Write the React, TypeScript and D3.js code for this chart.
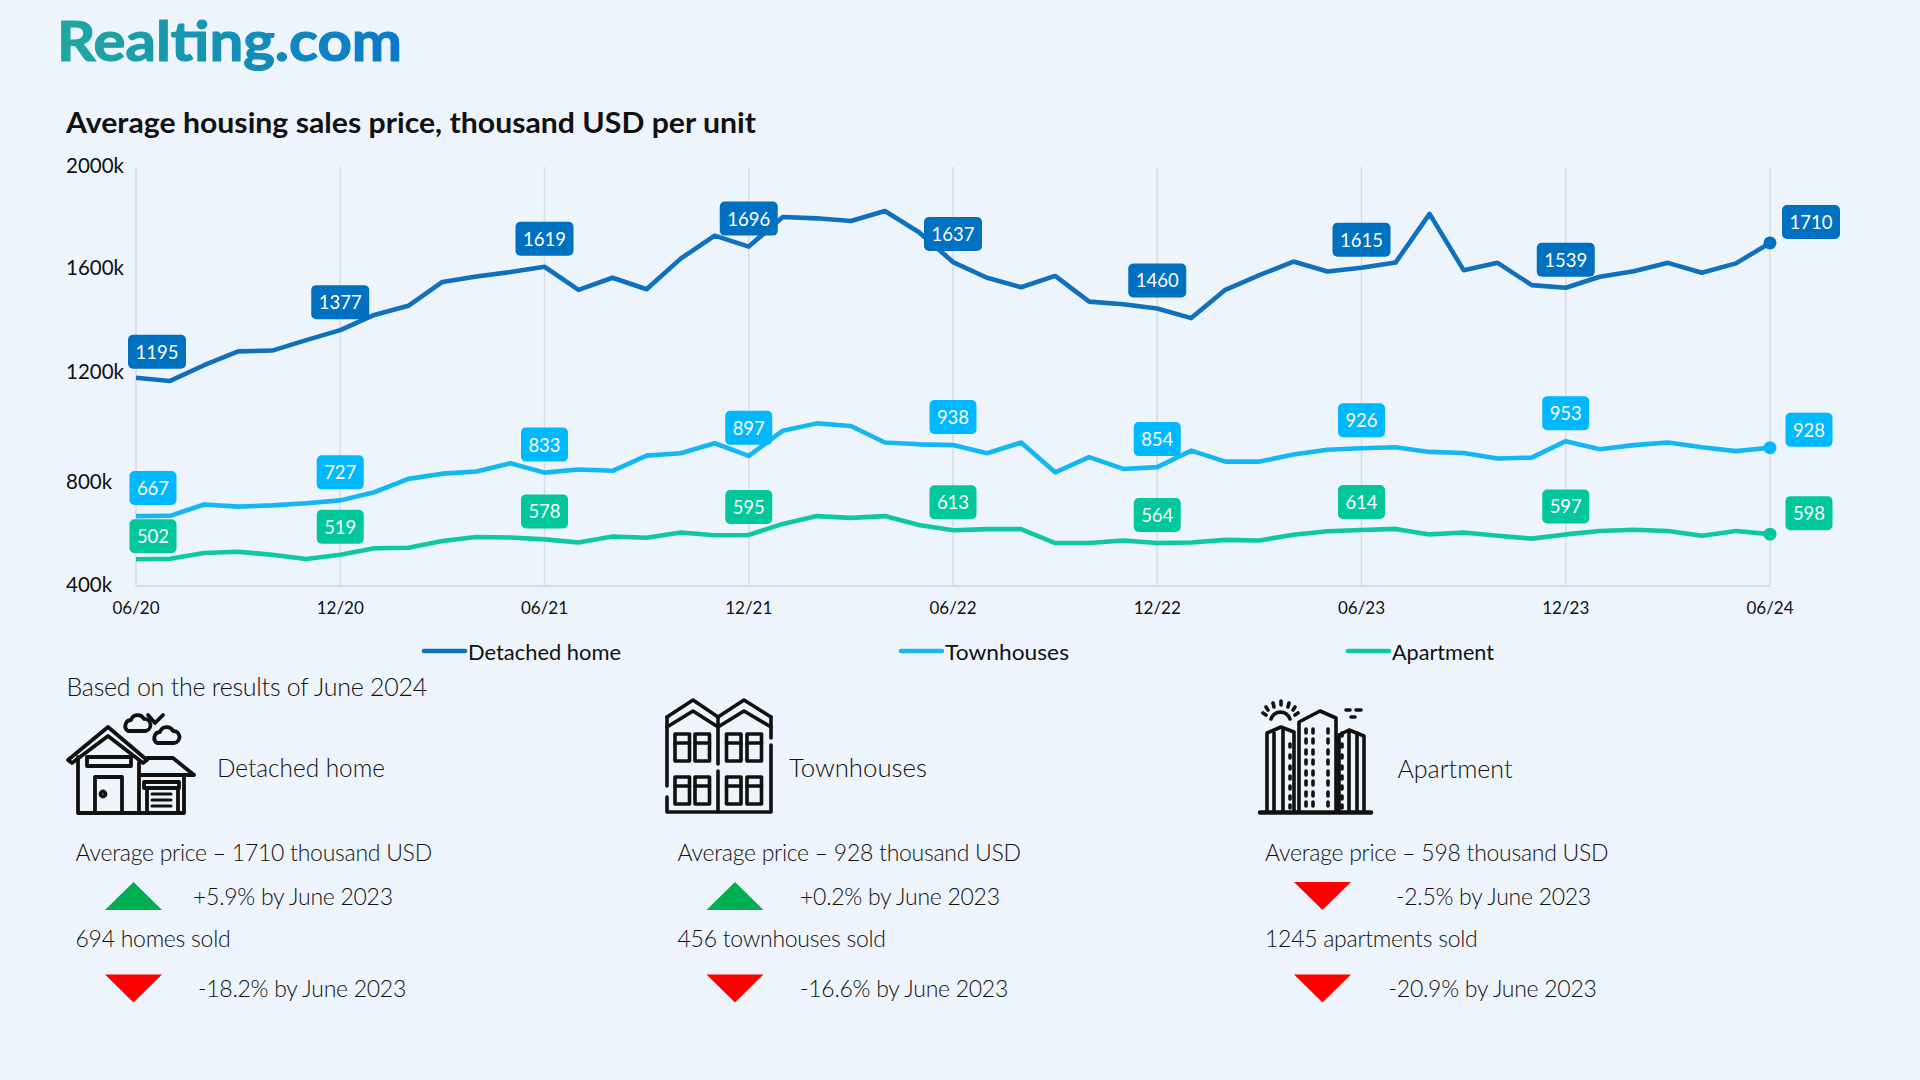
import * as d3 from "d3"

const detached = [
  1195, 1183, 1243, 1296, 1299, 1339, 1377, 1435, 1470, 1561, 1582, 1599, 1619, 1531, 1577, 1533, 1650, 1738, 1696,
  1809, 1804, 1794, 1832, 1751, 1637, 1577, 1541, 1584, 1486, 1476, 1460, 1423, 1531, 1587, 1639, 1601, 1615, 1635,
  1821, 1606, 1634, 1549, 1539, 1581, 1602, 1634, 1596, 1632, 1710,
]
const townhouses = [
  667, 668, 711, 703, 708, 716, 727, 758, 809, 829, 837, 869, 833, 845, 840, 898, 907, 945, 897, 993, 1021, 1011, 948,
  941, 938, 907, 948, 834, 892, 847, 854, 917, 875, 875, 902, 920, 926, 930, 912, 908, 887, 890, 953, 922, 938, 948,
  930, 915, 928,
]
const apartment = [
  502, 504, 526, 531, 519, 503, 519, 544, 546, 572, 587, 585, 578, 566, 589, 584, 604, 594, 595, 637, 667, 660, 667,
  633, 613, 617, 617, 564, 564, 574, 564, 566, 576, 574, 596, 609, 614, 618, 597, 604, 592, 581, 597, 610, 615, 610,
  592, 610, 598,
]
const xTickLabels = ["06/20", "12/20", "06/21", "12/21", "06/22", "12/22", "06/23", "12/23", "06/24"]
const yTicks = [2000, 1600, 1200, 800, 400]

const seriesNames = ["Detached home", "Townhouses", "Apartment"]
const lineColors = ["#0F70BE", "#14B7F2", "#0DC8A2"]
const boxColors = ["#0070C0", "#00B8FF", "#00C79C"]

const avgPrices = ["Average price – 1710 thousand USD", "Average price – 928 thousand USD", "Average price – 598 thousand USD"]
const priceChanges = ["+5.9% by June 2023", "+0.2% by June 2023", "-2.5% by June 2023"]
const soldCounts = ["694 homes sold", "456 townhouses sold", "1245 apartments sold"]
const soldChanges = ["-18.2% by June 2023", "-16.6% by June 2023", "-20.9% by June 2023"]

const FONT = "Lato, 'Noto Sans', sans-serif"
const INK = "#111"

const margin = { top: 167, right: 150, bottom: 494, left: 136 }
const width = 1920
const height = 1080

const xScale = d3
  .scaleLinear()
  .domain([0, detached.length - 1])
  .range([margin.left, width - margin.right])

const yScale = d3
  .scaleLinear()
  .domain([400, 2000])
  .range([height - margin.bottom, margin.top])

const lineGen = d3
  .line<number>()
  .x((_, i) => xScale(i))
  .y((d) => yScale(d))

// the tick labels in the picture do not sit exactly on the gridline values
const yLabelNudge: Record<number, number> = { 2000: -2, 1600: -5, 1200: -6, 800: 0, 400: -2 }

function labelOffset(seriesIndex: number, tickIndex: number) {
  if (tickIndex === 0) return { dx: seriesIndex === 0 ? 21 : 17, dy: seriesIndex === 2 ? -23 : seriesIndex === 0 ? -26 : -28 }
  if (tickIndex === xTickLabels.length - 1) {
    return { dx: seriesIndex === 0 ? 41 : 39, dy: seriesIndex === 0 ? -21 : seriesIndex === 1 ? -18 : -21 }
  }
  return { dx: 0, dy: -28 }
}

function Triangle({ x, y, up }: { x: number; y: number; up: boolean }) {
  const w = 57
  const h = 28
  const pts = up ? [[x, y + h], [x + w, y + h], [x + w / 2, y]] : [[x, y], [x + w, y], [x + w / 2, y + h]]
  return <polygon points={pts.map((p) => p.join(",")).join(" ")} fill={up ? "#00B050" : "#FF0000"} />
}

function HouseIcon() {
  return (
    <g fill="none" stroke="#111" strokeWidth={3.8} strokeLinejoin="round" strokeLinecap="round">
      <path d="M68 760 L108 727 L147 760 L143 763 L108 736 L72 763 Z" />
      <path d="M78 757 V813 H184 V775" />
      <path d="M139 763 V813" />
      <rect x={87} y={757} width={44} height={9} />
      <rect x={95} y={777} width={27} height={36} />
      <circle cx={103} cy={794} r={2.5} />
      <path d="M147 758 H173 L194 775 H139" />
      <rect x={144} y={782} width={35} height={6} />
      <path d="M147 788 V813 M178 788 V813" />
      <path d="M152 794 H171 M152 800 H171 M152 806 H171" strokeWidth={3} />
      <path d="M128 731 a6 6 0 0 1 3 -11 a7 7 0 0 1 13 -1 a6 6 0 0 1 1 12 Z" />
      <path d="M157 743 a6 6 0 0 1 3 -11 a7 7 0 0 1 13 -1 a6 6 0 0 1 1 12 Z" />
      <path d="M148 715 L155 723 L163 715" />
    </g>
  )
}

function TownhouseIcon() {
  const windowX = [675, 695, 726.5, 747]
  const windowY = [734, 777]
  return (
    <g fill="none" stroke="#111" strokeWidth={3.6} strokeLinejoin="round" strokeLinecap="round">
      <path d="M667 717 L693 700 L718 717 L744 700 L771 717" />
      <path d="M667 727 L693 711 L718 727 L744 711 L771 727" />
      <path d="M667 717 V786 M667 797 V812 H771 V745 M771 717 V738" />
      <path d="M718 717 V764 M718 771 V812" />
      {windowY.map((wy) =>
        windowX.map((wx) => (
          <g key={`${wx}-${wy}`}>
            <rect x={wx} y={wy} width={14.5} height={27} />
            <line x1={wx} x2={wx + 14.5} y1={wy + 9} y2={wy + 9} />
          </g>
        ))
      )}
    </g>
  )
}

function ApartmentIcon() {
  const rows = [729, 739, 750, 760, 771, 781, 792, 802]
  const rowsSide = [733, 744, 755, 766, 776, 786, 796, 805]
  return (
    <g fill="none" stroke="#111" strokeWidth={3.6} strokeLinejoin="round" strokeLinecap="round">
      <line x1={1260} x2={1371} y1={812.5} y2={812.5} strokeWidth={4.4} />
      <path d="M1267 812 V733 L1281 727 L1294 732 V812" />
      <path d="M1274 733 V812 M1283 729 V812" />
      <path d="M1299 812 V722 L1320 711 L1336 718 V812" />
      <path d="M1339 812 V735 L1349 730 L1364 736 V812" />
      <path d="M1349 731 V812 M1357 733 V812" />
      <path d="M1271 719 a10 10 0 0 1 19 0" />
      <path d="M1263 713 l3 2 M1266 707 l2 3 M1273 703 l1 4 M1281 701 v4 M1289 703 l-1 4 M1295 707 l-2 3 M1298 713 l-3 2" />
      <path d="M1346 710 h4 M1356 710 h5 M1351 717 h4" />
      {rows.map((wy) =>
        [1306, 1313, 1328].map((wx) => <line key={`${wx}-${wy}`} x1={wx} x2={wx} y1={wy} y2={wy + 4} />)
      )}
      {rowsSide.map((wy) => (
        <g key={wy}>
          <line x1={1290} x2={1290} y1={wy} y2={wy + 3} opacity={wy > 735 ? 1 : 0} />
          <line x1={1342} x2={1342} y1={wy} y2={wy + 3} />
        </g>
      ))}
    </g>
  )
}

export default function App() {
  const allSeries = [detached, townhouses, apartment]
  const legendLineX = [424, 901, 1348]
  const legendTextW = [153, 124, 102]
  const columnX = [75.5, 677.5, 1265]
  const triangleX = [105, 706.5, 1294]
  const headingX = [217, 789, 1397.5]
  const headingW = [168, 138, 115]
  const priceChangeX = [193, 800, 1396]
  const soldChangeX = [198, 800, 1388.6]
  const priceUp = [true, true, false]

  return (
    <svg
      width={width}
      height={height}
      style={{ position: "absolute", left: 0, top: 0, display: "block", fontFamily: FONT }}
    >
      <defs>
        <linearGradient id="logoFill" x1="0" x2="1" y1="0" y2="0">
          <stop offset="0%" stopColor="#1FA8A0" />
          <stop offset="100%" stopColor="#0A78CC" />
        </linearGradient>
      </defs>
      <rect width={width} height={height} fill="#EEF4FB" />

      <text
        x={57}
        y={61}
        fontSize={56}
        fontWeight={700}
        fill="url(#logoFill)"
        stroke="url(#logoFill)"
        strokeWidth={1.2}
        textLength={345}
        lengthAdjust="spacingAndGlyphs"
      >
        Realting.com
      </text>
      <text x={66} y={133} fontSize={28} fontWeight={700} fill="#111" textLength={690} lengthAdjust="spacingAndGlyphs">
        Average housing sales price, thousand USD per unit
      </text>

      {xTickLabels.map((label, i) => (
        <g key={label}>
          <line x1={xScale(i * 6)} x2={xScale(i * 6)} y1={yScale(2000)} y2={yScale(400)} stroke="#D8DCE2" strokeWidth={1.5} />
          <text x={xScale(i * 6)} y={607} textAnchor="middle" dominantBaseline="central" fontSize={17} fill={INK}>
            {label}
          </text>
        </g>
      ))}
      <line x1={margin.left} x2={width - margin.right} y1={yScale(400)} y2={yScale(400)} stroke="#D8DCE2" strokeWidth={2} />

      {yTicks.map((t) => (
        <text key={t} x={66} y={yScale(t) + yLabelNudge[t]} dominantBaseline="central" fontSize={20.5} fill={INK}>
          {t}k
        </text>
      ))}

      {allSeries.map((values, s) => (
        <g key={seriesNames[s]}>
          <path d={lineGen(values) ?? ""} fill="none" stroke={lineColors[s]} strokeWidth={4.6} strokeLinejoin="round" />
          <circle cx={xScale(values.length - 1)} cy={yScale(values[values.length - 1])} r={6.5} fill={boxColors[s]} />
        </g>
      ))}

      {allSeries.map((values, s) =>
        xTickLabels.map((_, i) => {
          const value = values[i * 6]
          const { dx, dy } = labelOffset(s, i)
          const cx = xScale(i * 6) + dx
          const cy = yScale(value) + dy
          const boxW = value >= 1000 ? 58 : 47
          return (
            <g key={`${s}-${i}`}>
              <rect x={cx - boxW / 2} y={cy - 17} width={boxW} height={34} rx={5} fill={boxColors[s]} />
              <text x={cx} y={cy} textAnchor="middle" dominantBaseline="central" fontSize={18.5} fill="#fff">
                {value}
              </text>
            </g>
          )
        })
      )}

      {seriesNames.map((name, s) => (
        <g key={name}>
          <line x1={legendLineX[s]} x2={legendLineX[s] + 41} y1={651} y2={651} stroke={lineColors[s]} strokeWidth={4.6} strokeLinecap="round" />
          <text
            x={legendLineX[s] + 44}
            y={651}
            dominantBaseline="central"
            fontSize={22}
            fill={INK}
            textLength={legendTextW[s]}
            lengthAdjust="spacingAndGlyphs"
          >
            {name}
          </text>
        </g>
      ))}

      <text x={66.5} y={686} dominantBaseline="central" fontSize={25} fontWeight={300} letterSpacing={-0.25} fill={INK}>
        Based on the results of June 2024
      </text>

      <HouseIcon />
      <TownhouseIcon />
      <ApartmentIcon />

      {seriesNames.map((name, s) => (
        <g key={`stats-${name}`} fontSize={23} fontWeight={300} letterSpacing={-0.27} fill={INK}>
          <text
            x={headingX[s]}
            y={s === 2 ? 768 : 767}
            dominantBaseline="central"
            fontSize={25}
            letterSpacing={0}
            textLength={headingW[s]}
            lengthAdjust="spacingAndGlyphs"
          >
            {name}
          </text>
          <text x={columnX[s]} y={852} dominantBaseline="central">
            {avgPrices[s]}
          </text>
          <Triangle x={triangleX[s]} y={882} up={priceUp[s]} />
          <text x={priceChangeX[s]} y={896} dominantBaseline="central">
            {priceChanges[s]}
          </text>
          <text x={columnX[s]} y={938} dominantBaseline="central">
            {soldCounts[s]}
          </text>
          <Triangle x={triangleX[s]} y={974.5} up={false} />
          <text x={soldChangeX[s]} y={988} dominantBaseline="central">
            {soldChanges[s]}
          </text>
        </g>
      ))}
    </svg>
  )
}
